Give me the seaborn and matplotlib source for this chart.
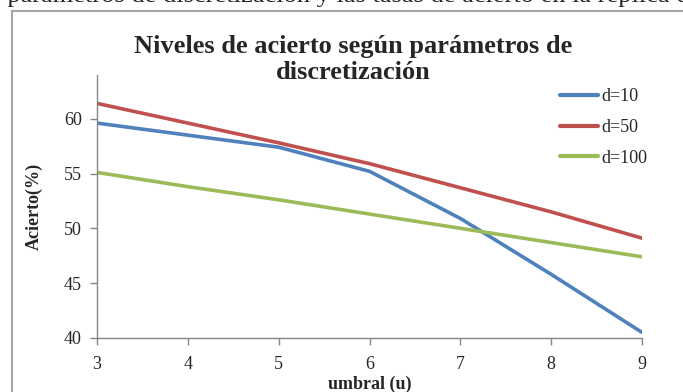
import matplotlib
matplotlib.use("Agg")
import matplotlib.pyplot as plt
import seaborn as sns
import pandas as pd

# Acierto (%) por umbral u para cada nivel de discretización d
umbral = [3, 4, 5, 6, 7, 8, 9]
acierto_d10 = [59.6, 58.5, 57.4, 55.2, 50.9, 45.8, 40.5]
acierto_d50 = [61.4, 59.6, 57.8, 55.9, 53.7, 51.5, 49.1]
acierto_d100 = [55.1, 53.8, 52.6, 51.3, 50.0, 48.7, 47.4]
series = ["d=10", "d=50", "d=100"]
colores = ["#4F81BD", "#C0504D", "#9BBB59"]

df = pd.concat([
    pd.DataFrame({"umbral": umbral, "acierto": vals, "serie": name})
    for name, vals in zip(series, [acierto_d10, acierto_d50, acierto_d100])
])

sns.set_theme(style="white")
plt.rcParams["font.family"] = ["Liberation Serif", "DejaVu Serif"]

fig = plt.figure(figsize=(6.83, 3.92), dpi=100)
ax = fig.add_axes([0.142, 0.138, 0.798, 0.671])

sns.lineplot(data=df, x="umbral", y="acierto", hue="serie", hue_order=series,
             palette=colores, linewidth=2.6, ax=ax, legend=True)

ax.set_xlim(3, 9)
ax.set_ylim(40, 64)
ax.set_xticks(umbral)
ax.set_yticks([40, 45, 50, 55, 60])
ax.tick_params(axis="both", which="both", labelsize=13, length=5, width=1,
               color="#868686", direction="out", bottom=True, left=True,
               pad=8)
ax.tick_params(axis="y", pad=6)
for s in ["top", "right"]:
    ax.spines[s].set_visible(False)
for s in ["left", "bottom"]:
    ax.spines[s].set_color("#868686")
    ax.spines[s].set_linewidth(1.0)

ax.set_xlabel("umbral (u)", fontsize=13, fontweight="bold", labelpad=2)
ax.set_ylabel("Acierto(%)", fontsize=13, fontweight="bold", labelpad=15)

leg = ax.legend(loc="upper left", bbox_to_anchor=(0.82, 1.01), frameon=False,
                fontsize=13, handlelength=2.1, handletextpad=0.2,
                labelspacing=0.75)
for line in leg.get_lines():
    line.set_linewidth(3.0)

fig.text(0.517, 1 - 79 / 392,
         "Niveles de acierto según parámetros de\ndiscretización",
         ha="center", va="baseline", fontsize=19, fontweight="bold",
         linespacing=1.15, multialignment="center")

# Marco del gráfico
border = plt.Rectangle((12 / 683, -0.1), 1.2, 1 - 11 / 392 + 0.1,
                       transform=fig.transFigure, fill=False,
                       edgecolor="#A6A6A6", linewidth=1.5)
fig.add_artist(border)

# Línea del texto del documento, cortada en el borde superior
fig.text(-0.012, 1 - 2 / 392,
         "r parámetros de discretización y las tasas de acierto en la réplica d",
         ha="left", va="baseline", fontsize=19)

fig.savefig("out.png", dpi=100)
